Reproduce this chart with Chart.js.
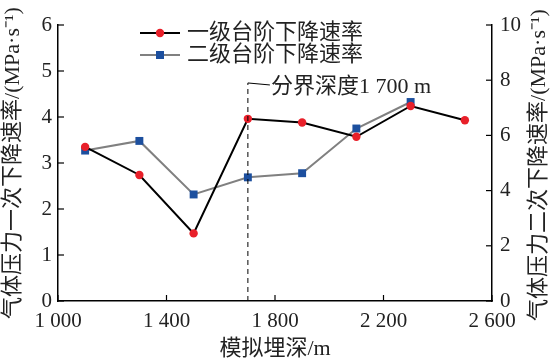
<!DOCTYPE html>
<html>
<head>
<meta charset="utf-8">
<script src="https://cdn.jsdelivr.net/npm/chart.js@4"></script>
<style>
  html, body { margin: 0; padding: 0; background: #fff; }
  #wrap { width: 556px; height: 362px; }
</style>
</head>
<body>
<div id="wrap"><canvas id="chart" width="556" height="362"></canvas></div>
<script>
// data
var depth1 = [1100, 1300, 1500, 1700, 1900, 2100, 2300, 2500];
var rate1 = [3.35, 2.74, 1.47, 3.96, 3.88, 3.57, 4.24, 3.93];
var depth2 = [1100, 1300, 1500, 1700, 1900, 2100, 2300];
var rate2 = [5.45, 5.80, 3.86, 4.48, 4.63, 6.25, 7.21];
var seriesNames = ['一级台阶下降速率', '二级台阶下降速率'];
var boundaryDepth = 1700;
var boundaryLabel = '分界深度1 700 m';
var xTitle = '模拟埋深/m';
var yTitle1 = '气体压力一次下降速率/(MPa·s⁻¹)';
var yTitle2 = '气体压力二次下降速率/(MPa·s⁻¹)';

var serif = "'Liberation Serif', 'Times New Roman', 'Noto Sans CJK SC', serif";
var cjk = "'Liberation Serif', 'Noto Sans CJK SC', sans-serif";

function pts(xs, ys) {
	return xs.map(function (x, i) { return { x: x, y: ys[i] }; });
}

// ticks pointing into the plot, boundary line, legend, right title
var extras = {
	id: 'extras',
	afterDraw: function (chart) {
		var ctx = chart.ctx;
		var a = chart.chartArea;
		var sx = chart.scales.x, sy = chart.scales.y, sy2 = chart.scales.y2;
		ctx.save();
		ctx.strokeStyle = '#000';
		ctx.lineWidth = 1.2;
		var tl = 6;
		sx.ticks.forEach(function (t) {
			var px = sx.getPixelForValue(t.value);
			ctx.beginPath(); ctx.moveTo(px, a.bottom); ctx.lineTo(px, a.bottom - tl); ctx.stroke();
		});
		sy.ticks.forEach(function (t) {
			var py = sy.getPixelForValue(t.value);
			ctx.beginPath(); ctx.moveTo(a.left, py); ctx.lineTo(a.left + tl, py); ctx.stroke();
		});
		sy2.ticks.forEach(function (t) {
			var py = sy2.getPixelForValue(t.value);
			ctx.beginPath(); ctx.moveTo(a.right, py); ctx.lineTo(a.right - tl, py); ctx.stroke();
		});

		// boundary depth
		var bx = sx.getPixelForValue(boundaryDepth);
		var btop = sy.getPixelForValue(4.74);
		ctx.lineWidth = 1;
		ctx.setLineDash([5, 4]);
		ctx.beginPath(); ctx.moveTo(bx, a.bottom); ctx.lineTo(bx, btop); ctx.stroke();
		ctx.setLineDash([]);
		ctx.beginPath(); ctx.moveTo(bx, btop); ctx.lineTo(bx + 22, btop + 2); ctx.stroke();
		ctx.fillStyle = '#222';
		ctx.font = '22px ' + cjk;
		ctx.textBaseline = 'middle';
		ctx.textAlign = 'left';
		ctx.fillText(boundaryLabel, bx + 23, sy.getPixelForValue(4.65));

		// legend
		var lx = a.left + 82, ly = a.top + 8;
		chart.data.datasets.forEach(function (ds, i) {
			var y = ly + i * 22;
			ctx.strokeStyle = ds.borderColor;
			ctx.lineWidth = 2;
			ctx.beginPath(); ctx.moveTo(lx, y); ctx.lineTo(lx + 40, y); ctx.stroke();
			ctx.fillStyle = ds.pointBackgroundColor;
			if (ds.pointStyle === 'rect') {
				ctx.fillRect(lx + 16, y - 4, 8, 8);
			} else {
				ctx.beginPath(); ctx.arc(lx + 20, y, 4.2, 0, Math.PI * 2); ctx.fill();
			}
			ctx.fillStyle = '#222';
			ctx.font = '22px ' + cjk;
			ctx.fillText(ds.label, lx + 47, y);
		});

		// right title, reading upward like the left one
		ctx.translate(a.right + 47, (a.top + a.bottom) / 2 + 2);
		ctx.rotate(-Math.PI / 2);
		ctx.textAlign = 'center';
		ctx.fillStyle = '#222';
		ctx.font = '22px ' + cjk;
		ctx.fillText(yTitle2, 0, 0);
		ctx.restore();
	}
};

var ctx = document.getElementById('chart').getContext('2d');
var chart = new Chart(ctx, {
	type: 'line',
	data: {
		datasets: [{
			label: seriesNames[0],
			data: pts(depth1, rate1),
			yAxisID: 'y',
			borderColor: '#000',
			borderWidth: 2,
			pointStyle: 'circle',
			pointRadius: 4.2,
			pointBackgroundColor: '#e8202a',
			pointBorderWidth: 0,
			tension: 0
		}, {
			label: seriesNames[1],
			data: pts(depth2, rate2),
			yAxisID: 'y2',
			borderColor: '#808080',
			borderWidth: 2,
			pointStyle: 'rect',
			pointRadius: 5.6,
			pointBackgroundColor: '#1c4f9e',
			pointBorderWidth: 0,
			tension: 0
		}]
	},
	options: {
		responsive: false,
		animation: false,
		layout: { padding: { top: 25, right: 0, left: 0, bottom: 0 } },
		plugins: { legend: { display: false }, tooltip: { enabled: false } },
		scales: {
			x: {
				type: 'linear',
				min: 1000, max: 2600,
				grid: { display: false, drawTicks: false },
				border: { display: true, color: '#000', width: 1.5 },
				ticks: {
					stepSize: 400, padding: 8, color: '#222',
					font: { family: serif, size: 21 },
					callback: function (v) { return String(v).replace(/(\d)(\d{3})$/, '$1 $2'); }
				},
				title: { display: true, text: xTitle, color: '#222', font: { family: cjk, size: 22 }, padding: { top: 0, bottom: 0 } },
				afterFit: function (s) { s.height = 61; }
			},
			y: {
				position: 'left',
				min: 0, max: 6,
				grid: { display: false, drawTicks: false },
				border: { display: true, color: '#000', width: 1.5 },
				ticks: { stepSize: 1, padding: 6, color: '#222', font: { family: serif, size: 21 } },
				title: { display: true, text: yTitle1, color: '#222', font: { family: cjk, size: 22 }, padding: { top: 0, bottom: 0 } },
				afterFit: function (s) { s.width = 58; }
			},
			y2: {
				position: 'right',
				min: 0, max: 10,
				grid: { display: false, drawTicks: false },
				border: { display: true, color: '#000', width: 1.5 },
				ticks: { stepSize: 2, padding: 8, color: '#222', font: { family: serif, size: 21 } },
				afterFit: function (s) { s.width = 64; }
			}
		}
	},
	plugins: [extras]
});
</script>
</body>
</html>
